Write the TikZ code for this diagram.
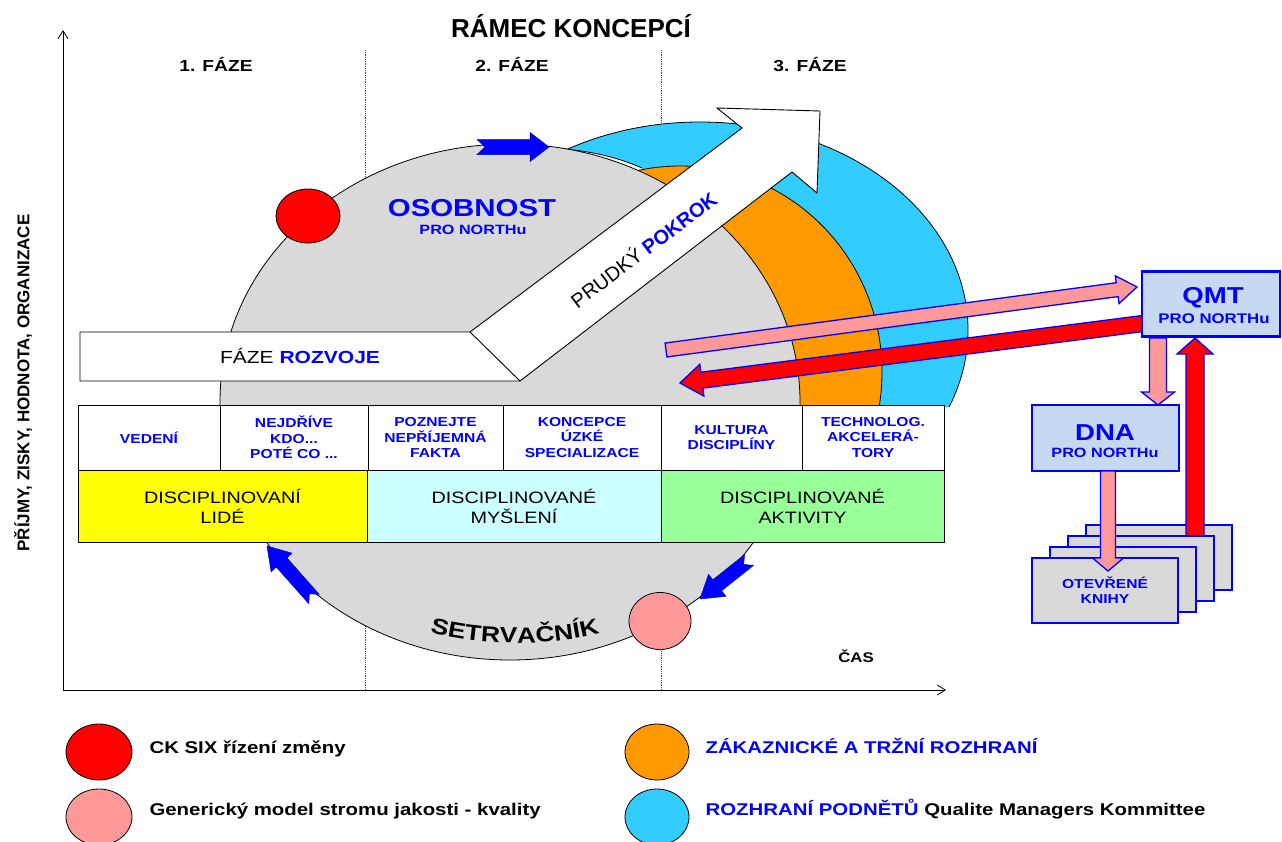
\documentclass[tikz,border=0pt]{standalone}
\usepackage{fontspec}
\setmainfont{Liberation Sans}
\newfontfamily\fW[FakeStretch=1.2]{Liberation Sans}
\newfontfamily\fN{Liberation Sans}
\usetikzlibrary{calc,arrows.meta,decorations.text,shapes.geometric}
\definecolor{cgray}{HTML}{D9D9D9}
\definecolor{ccyan}{HTML}{33CCFF}
\definecolor{corange}{HTML}{FF9900}
\definecolor{cpink}{HTML}{FF9999}
\definecolor{cblue}{HTML}{0000FF}
\definecolor{cqmt}{HTML}{C6D9F1}
\definecolor{cyel}{HTML}{FFFF00}
\definecolor{clcyan}{HTML}{CCFFFF}
\definecolor{clgreen}{HTML}{99FF99}
\newcommand{\fsz}[2]{\fontsize{#1}{#2}\selectfont}
% #1 style, #2 tail, #3 tip, #4 shaft half width, #5 head half width, #6 head length, #7 notch
\newcommand{\blockarrow}[7]{%
  \coordinate (hb) at ($(#3)!#6!(#2)$);
  \coordinate (nt) at ($(#2)!#7!(#3)$);
  \path[#1] ($(#2)!#4!90:(#3)$) -- ($(hb)!#4!90:(#3)$) -- ($(hb)!#5!90:(#3)$) -- (#3)
     -- ($(hb)!#5!-90:(#3)$) -- ($(hb)!#4!-90:(#3)$) -- ($(#2)!#4!-90:(#3)$) -- (nt) -- cycle;}
\begin{document}
\begin{tikzpicture}[x=1pt,y=-1pt,
  thin outline/.style={draw=black, line width=0.8pt},
  cell/.style={draw, line width=0.9pt, inner sep=0pt, align=center},
  topcell/.style={cell, fill=white, text=cblue, font=\fW\bfseries\fsz{13}{15.5}, minimum height=65pt},
  botcell/.style={cell, font=\fW\fsz{16.5}{20}, minimum height=72pt},
  bluebox/.style={draw=cblue, line width=2.8pt, inner sep=0pt},
  bluearrow/.style={fill=cblue, draw=cblue!70!black, line width=0.5pt},
  pinkarrow/.style={fill=cpink, draw=cblue, line width=1.3pt},
  redarrow/.style={fill=red, draw=cblue, line width=1.3pt},
  dot/.style={ellipse, thin outline, inner sep=0pt},
  phase/.style={anchor=base, font=\fW\bfseries\fsz{16}{19}},
  legtext/.style={anchor=base west, font=\fW\bfseries\fsz{17}{20}},
  sub/.style={anchor=base, text=cblue, font=\fW\bfseries\fsz{13.5}{16}},
  big/.style={anchor=base, text=cblue, font=\fW\bfseries\fsz{23}{26}},
  divider/.style={densely dotted, line width=0.8pt, black!70}
]
\useasboundingbox (0,0) rectangle (1282,841);
\fill[white] (0,0) rectangle (1282,841);

% phase dividers
\coordinate (d1t) at (365,50); \coordinate (d1b) at (365,690);
\coordinate (d2t) at (661,50); \coordinate (d2b) at (661,690);
\draw[divider] (d1t) -- (d1b);
\draw[divider] (d2t) -- (d2b);

% axes
\coordinate (org) at (63,690);
\coordinate (ytop) at (63,30);
\coordinate (xend) at (946,690);
\draw[line width=0.8pt, -{Straight Barb[length=8pt,width=10pt]}] (org) -- (ytop);
\draw[line width=0.8pt, -{Straight Barb[length=8pt,width=10pt]}] (org) -- (xend);

% crescents
\begin{scope}
\clip (0,0) rectangle (1282,406);
\draw[fill=ccyan, line width=0.8pt] (700,330) ellipse [x radius=268pt, y radius=208pt];
\fill[white] (552,148) .. controls (585,150) and (615,156) .. (642,168) -- (642,215) -- (552,215) -- cycle;
\draw[line width=0.8pt] (552,148) .. controls (585,150) and (615,156) .. (642,168);
\draw[fill=corange, line width=0.8pt] (680,372) ellipse [x radius=202pt, y radius=206pt];
\end{scope}

% flywheel
\node[dot, fill=cgray, minimum width=580pt, minimum height=516pt] (fly) at (510,402) {};
\node[dot, fill=red, minimum width=64pt, minimum height=54pt] (ck) at (308,216) {};
\node[dot, fill=cpink, minimum width=62pt, minimum height=57pt] (gm) at (660,621) {};

% blue flow arrows
\coordinate (a1t) at (477,147); \coordinate (a1h) at (549,147);
\blockarrow{bluearrow}{a1t}{a1h}{7.5pt}{14.5pt}{19pt}{8pt}
\coordinate (a2t) at (314,599); \coordinate (a2h) at (267,546);
\blockarrow{bluearrow}{a2t}{a2h}{7pt}{14pt}{22pt}{7pt}
\coordinate (a3t) at (749,560); \coordinate (a3h) at (700,599);
\blockarrow{bluearrow}{a3t}{a3h}{7pt}{14pt}{22pt}{7pt}

% bent white arrow
\draw[fill=white, line width=0.9pt, line join=miter] (80,332) -- (470,332) -- (742,128) -- (717,108) -- (820,111) -- (817,193) -- (792,172) -- (520,381) -- (80,381) -- cycle;
\draw[line width=0.9pt] (470,332) -- (520,381);
\node[anchor=base, font=\fW\fsz{17.5}{20}] (rozvoj) at (300,363) {FÁZE \textcolor{cblue}{\bfseries ROZVOJE}};
\node[rotate=37, font=\fN\fsz{20}{22}] (pokrok) at (643,249) {PRUDKÝ \textcolor{cblue}{\bfseries POKROK}};

% table
\node[topcell, minimum width=142pt] (t1) at (149,437.5) {VEDENÍ};
\node[topcell, minimum width=148pt] (t2) at (294,437.5) {NEJDŘÍVE\\KDO...\\POTÉ CO ...};
\node[topcell, minimum width=135pt] (t3) at (435.5,437.5) {POZNEJTE\\NEPŘÍJEMNÁ\\FAKTA};
\node[topcell, minimum width=158pt] (t4) at (582,437.5) {KONCEPCE\\ÚZKÉ\\SPECIALIZACE};
\node[topcell, minimum width=141pt] (t5) at (731.5,437.5) {KULTURA\\DISCIPLÍNY};
\node[topcell, minimum width=142pt] (t6) at (873,437.5) {TECHNOLOG.\\AKCELERÁ-\\TORY};
\node[botcell, fill=cyel, minimum width=289pt] (b1) at (222.5,506) {DISCIPLINOVANÍ\\LIDÉ};
\node[botcell, fill=clcyan, minimum width=294pt] (b2) at (514,506) {DISCIPLINOVANÉ\\MYŠLENÍ};
\node[botcell, fill=clgreen, minimum width=283pt] (b3) at (802.5,506) {DISCIPLINOVANÉ\\AKTIVITY};

% flywheel labels
\node[anchor=base, text=cblue, font=\fW\bfseries\fsz{24.5}{27}] (osob) at (472,216) {OSOBNOST};
\node[sub] (osobs) at (473,234) {PRO NORTHu};
\path[decorate, decoration={text along path, text align=center,
  text={|\fW\bfseries\fsz{22}{22}|SETRVAČNÍK}}]
  (416,628) .. controls (470,648) and (560,648) .. (614,629);

% QMT arrows
\coordinate (pkt) at (666,350); \coordinate (pkh) at (1137,287);
\blockarrow{pinkarrow}{pkt}{pkh}{7pt}{14pt}{20pt}{0pt}
\coordinate (rdt) at (1170,320); \coordinate (rdh) at (680,383);
\blockarrow{redarrow}{rdt}{rdh}{8pt}{16pt}{22pt}{0pt}

% QMT, DNA, books
\node[bluebox, fill=cqmt, minimum width=138pt, minimum height=65pt] (qmt) at (1211,304) {};
\node[big] (qmtt) at (1213,303) {QMT};
\node[sub, font=\fW\bfseries\fsz{14}{16}] (qmts) at (1214,323) {PRO NORTHu};

\node[bluebox, fill=cgray, minimum width=146pt, minimum height=65pt] (bk4) at (1159,557.5) {};
\coordinate (upt) at (1195,545); \coordinate (uph) at (1195,338);
\blockarrow{redarrow}{upt}{uph}{9pt}{18pt}{16pt}{0pt}
\node[bluebox, fill=cgray, minimum width=146pt, minimum height=65pt] (bk3) at (1141,568.5) {};
\node[bluebox, fill=cgray, minimum width=146pt, minimum height=65pt] (bk2) at (1123,579.5) {};
\node[bluebox, fill=cgray, minimum width=146pt, minimum height=65pt] (bk1) at (1105,590.5) {};
\node[anchor=base, text=cblue, font=\fW\bfseries\fsz{13}{15}] (bkt1) at (1105,588) {OTEVŘENÉ};
\node[anchor=base, text=cblue, font=\fW\bfseries\fsz{13}{15}] (bkt2) at (1105,603) {KNIHY};

\node[bluebox, fill=cqmt, minimum width=147pt, minimum height=66pt] (dna) at (1105.5,438) {};
\node[big] (dnat) at (1105,440) {DNA};
\node[sub] (dnas) at (1105,457) {PRO NORTHu};

\coordinate (dwt) at (1158,338); \coordinate (dwh) at (1158,405);
\blockarrow{pinkarrow}{dwt}{dwh}{8.5pt}{16.5pt}{13pt}{0pt}
\coordinate (d2t0) at (1108,471); \coordinate (d2h0) at (1108,571);
\blockarrow{pinkarrow}{d2t0}{d2h0}{7.5pt}{15.5pt}{13pt}{0pt}

% texts
\node[anchor=base, font=\fN\bfseries\fsz{26}{30}] (title) at (571,37) {RÁMEC KONCEPCÍ};
\node[phase] (ph1) at (216,71) {1. FÁZE};
\node[phase] (ph2) at (512,71) {2. FÁZE};
\node[phase] (ph3) at (810,71) {3. FÁZE};
\node[anchor=base, font=\fW\bfseries\fsz{14}{16}] (cas) at (856,662) {ČAS};
\node[rotate=90, font=\fN\bfseries\fsz{17}{20}] (ylab) at (23,383) {PŘÍJMY, ZISKY, HODNOTA, ORGANIZACE};

% legend
\node[dot, fill=red, minimum width=66pt, minimum height=56pt] (lg1) at (99,752) {};
\node[dot, fill=cpink, minimum width=66pt, minimum height=56pt] (lg2) at (99,817) {};
\node[dot, fill=corange, minimum width=64pt, minimum height=56pt] (lg3) at (657,752) {};
\node[dot, fill=ccyan, minimum width=64pt, minimum height=56pt] (lg4) at (657,817) {};
\node[legtext] (lt1) at (146,753) {CK SIX řízení změny};
\node[legtext] (lt2) at (146,815) {Generický model stromu jakosti - kvality};
\node[legtext] (lt3) at (702,753) {\textcolor{cblue}{ZÁKAZNICKÉ A TRŽNÍ ROZHRANÍ}};
\node[legtext] (lt4) at (702,815) {\textcolor{cblue}{ROZHRANÍ PODNĚTŮ} Qualite Managers Kommittee};
\end{tikzpicture}
\end{document}
